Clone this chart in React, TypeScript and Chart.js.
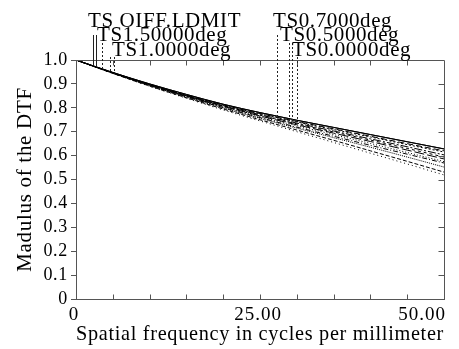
import React, { useEffect, useRef } from 'react';
import { Chart, registerables } from 'chart.js';

Chart.register(...registerables);

// Spatial frequency samples (cycles/mm)
const freq = [0, 5, 10, 15, 20, 25, 30, 35, 40, 45, 50];

const seriesNames = [
  'DIFF.LIMIT T', 'DIFF.LIMIT S',
  '0.0000 deg T', '0.0000 deg S',
  '0.5000 deg T', '0.5000 deg S',
  '0.7000 deg T', '0.7000 deg S',
  '1.0000 deg T', '1.0000 deg S',
  '1.5000 deg T', '1.5000 deg S',
];

const diffT = [1, 0.948, 0.900, 0.856, 0.815, 0.780, 0.748, 0.718, 0.688, 0.658, 0.628];
const diffS = [1, 0.948, 0.900, 0.856, 0.815, 0.780, 0.748, 0.718, 0.688, 0.658, 0.628];
const f00T = [1, 0.947, 0.898, 0.853, 0.812, 0.776, 0.743, 0.712, 0.681, 0.650, 0.620];
const f00S = [1, 0.947, 0.898, 0.852, 0.811, 0.775, 0.741, 0.709, 0.678, 0.646, 0.615];
const f05T = [1, 0.946, 0.897, 0.851, 0.809, 0.771, 0.736, 0.703, 0.670, 0.637, 0.603];
const f05S = [1, 0.946, 0.896, 0.850, 0.808, 0.769, 0.733, 0.699, 0.665, 0.630, 0.594];
const f07T = [1, 0.946, 0.896, 0.849, 0.806, 0.766, 0.729, 0.694, 0.659, 0.623, 0.586];
const f07S = [1, 0.945, 0.895, 0.848, 0.804, 0.763, 0.725, 0.688, 0.651, 0.613, 0.575];
const f10T = [1, 0.945, 0.894, 0.846, 0.801, 0.759, 0.719, 0.681, 0.643, 0.606, 0.569];
const f10S = [1, 0.945, 0.893, 0.845, 0.799, 0.756, 0.715, 0.675, 0.635, 0.594, 0.552];
const f15T = [1, 0.944, 0.891, 0.842, 0.795, 0.750, 0.707, 0.664, 0.620, 0.576, 0.531];
const f15S = [1, 0.944, 0.890, 0.840, 0.791, 0.745, 0.700, 0.655, 0.610, 0.565, 0.519];

const seriesValues = [diffT, diffS, f00T, f00S, f05T, f05S, f07T, f07S, f10T, f10S, f15T, f15S];

const xTickValues = [0, 25, 50];
const xTickLabels = ['0', '25.00', '50.00'];

// Field labels at the top with leader lines
const annoTexts = ['TS OIFF.LDMIT', 'TS1.50000deg', 'TS1.0000deg', 'TS0.7000deg', 'TS0.5000deg', 'TS0.0000deg'];
const annoTextX = [1.63, 2.85, 4.89, 26.77, 27.72, 29.35];
const annoRow = [0, 1, 2, 0, 1, 2];
const annoLeaderX = [[2.3, 2.75], [3.6], [4.6, 5.1], [27.3], [28.9, 29.4], [30.0]];
const annoLeaderSeries = [[0, 1], [10], [8, 9], [6], [4, 5], [2]];

const SERIF = '"Liberation Serif", "Times New Roman", serif';
const dashes = [[], [], [6, 3], [2, 2], [8, 2, 2, 2], [3, 3], [10, 3], [1, 2], [5, 2, 1, 2], [1, 1], [4, 2], [1, 3]];
const leaderDash = [[], [2, 2], [2, 2], [2, 2], [2, 2], [2, 2]];

function interp(vals: number[], x: number) {
  for (let i = 0; i < freq.length - 1; i++) {
    if (x >= freq[i] && x <= freq[i + 1]) {
      const t = (x - freq[i]) / (freq[i + 1] - freq[i]);
      return vals[i] + t * (vals[i + 1] - vals[i]);
    }
  }
  return vals[vals.length - 1];
}

const framePlugin = {
  id: 'frame',
  beforeDraw(chart: any) {
    chart.ctx.letterSpacing = '0.7px';
  },
  afterDraw(chart: any) {
    const { ctx, chartArea: a, scales } = chart;
    const xs = scales.x;
    const ys = scales.y;
    ctx.save();
    ctx.setLineDash([]);
    ctx.strokeStyle = '#555';
    ctx.lineWidth = 1;
    const top = Math.round(a.top) + 0.5;
    const right = Math.round(a.right) + 0.5;
    const bottom = Math.round(a.bottom) + 0.5;
    ctx.beginPath();
    ctx.moveTo(a.left, top);
    ctx.lineTo(right, top);
    ctx.lineTo(right, a.bottom + 1);
    ctx.stroke();
    // inward ticks top / bottom
    ctx.beginPath();
    for (let v = 5; v < 50; v += 5) {
      const px = Math.round(xs.getPixelForValue(v)) + 0.5;
      ctx.moveTo(px, top);
      ctx.lineTo(px, top + 5);
      ctx.moveTo(px, bottom);
      ctx.lineTo(px, bottom - 5);
    }
    // inward ticks right
    for (let i = 1; i < 10; i++) {
      const py = Math.round(ys.getPixelForValue(i / 10)) + 0.5;
      ctx.moveTo(right, py);
      ctx.lineTo(right - 6, py);
    }
    ctx.stroke();

    // x tick labels
    ctx.fillStyle = '#000';
    ctx.font = `19px ${SERIF}`;
    ctx.letterSpacing = '1px';
    ctx.textBaseline = 'top';
    xTickValues.forEach((v, i) => {
      const px = xs.getPixelForValue(v);
      if (i === xTickValues.length - 1) {
        ctx.textAlign = 'right';
        ctx.fillText(xTickLabels[i], px + 2, a.bottom + 7);
      } else {
        ctx.textAlign = 'center';
        ctx.fillText(xTickLabels[i], px - 2, a.bottom + 7);
      }
    });

    // annotations
    const rowBase = [-33, -19, -4];
    const rowLeaderStart = [-25, -17, -3];
    ctx.lineWidth = 1;
    annoTexts.forEach((t, i) => {
      ctx.strokeStyle = '#222';
      ctx.setLineDash(leaderDash[i]);
      annoLeaderX[i].forEach((lx, j) => {
        const px = Math.round(xs.getPixelForValue(lx)) + 0.5;
        const end = ys.getPixelForValue(interp(seriesValues[annoLeaderSeries[i][j]], lx));
        ctx.beginPath();
        ctx.moveTo(px, a.top + rowLeaderStart[annoRow[i]]);
        ctx.lineTo(px, end);
        ctx.stroke();
      });
    });
    ctx.setLineDash([]);
    ctx.font = `21px ${SERIF}`;
    ctx.letterSpacing = '0.6px';
    ctx.textAlign = 'left';
    ctx.textBaseline = 'alphabetic';
    annoTexts.forEach((t, i) => {
      ctx.fillText(t, xs.getPixelForValue(annoTextX[i]), a.top + rowBase[annoRow[i]]);
    });
    ctx.restore();
  },
};

export default function App() {
  const ref = useRef<HTMLCanvasElement>(null);
  useEffect(() => {
    const canvas = ref.current!;
    const chart = new Chart(canvas, {
      type: 'line',
      data: {
        datasets: seriesValues.map((vals, i) => ({
          label: seriesNames[i],
          data: freq.map((f, k) => ({ x: f, y: vals[k] })),
          borderColor: '#000',
          borderWidth: 1,
          borderDash: dashes[i],
          pointRadius: 0,
          cubicInterpolationMode: 'monotone' as const,
          fill: false,
        })),
      },
      options: {
        animation: false,
        responsive: false,
        layout: { padding: { top: 60, right: 15, left: 0, bottom: 0 } },
        plugins: { legend: { display: false }, tooltip: { enabled: false }, title: { display: false } },
        scales: {
          x: {
            type: 'linear',
            min: 0,
            max: 50,
            ticks: { display: false, stepSize: 5 },
            grid: { display: false, drawTicks: false },
            border: { display: true, color: '#555', width: 1 },
            title: {
              display: true,
              text: 'Spatial frequency in cycles per millimeter',
              color: '#000',
              font: { family: SERIF, size: 21 },
              padding: { top: 0, bottom: 2 },
            },
            afterFit(scale: any) { scale.height = 50; },
          },
          y: {
            type: 'linear',
            min: 0,
            max: 1,
            ticks: {
              stepSize: 0.1,
              autoSkip: false,
              color: '#000',
              padding: 3,
              font: { family: SERIF, size: 18 },
              callback: (v: any) => (Number(v) === 0 ? '0' : Number(v).toFixed(1)),
            },
            grid: { display: true, drawOnChartArea: false, drawTicks: true, tickLength: 5, color: '#555' },
            border: { display: true, color: '#555', width: 1 },
            title: {
              display: true,
              text: 'Madulus of the DTF',
              color: '#000',
              font: { family: SERIF, size: 21 },
              padding: { top: 13, bottom: 0 },
            },
            afterFit(scale: any) { scale.width = 76; },
          },
        },
      },
      plugins: [framePlugin],
    });
    return () => chart.destroy();
  }, []);
  return (
    <div style={{ position: 'fixed', left: 0, top: 0, width: 459, height: 349, background: '#fff' }}>
      <canvas ref={ref} width={459} height={349} style={{ display: 'block' }} />
    </div>
  );
}
